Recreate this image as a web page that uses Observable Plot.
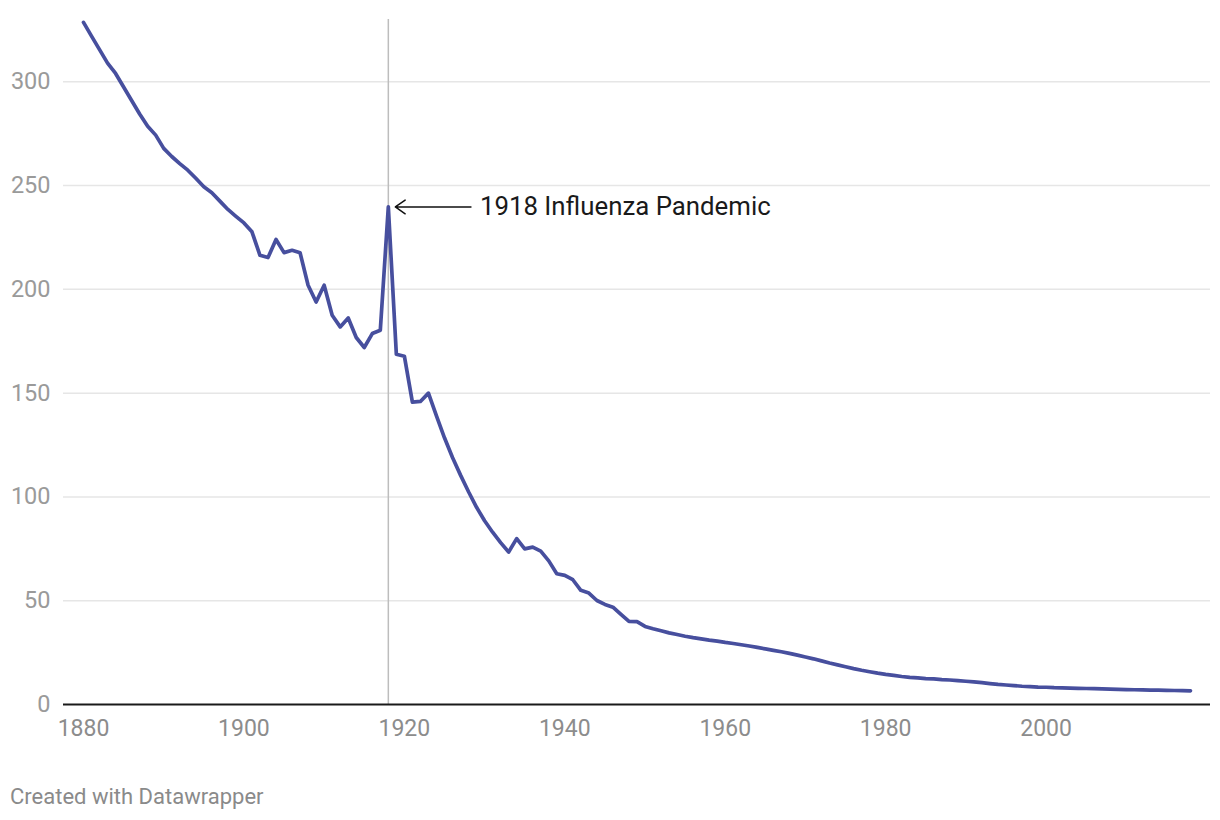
<!DOCTYPE html>
<html>
<head>
<meta charset="utf-8">
<script src="https://cdn.jsdelivr.net/npm/d3@7"></script>
<script src="https://cdn.jsdelivr.net/npm/@observablehq/plot@0.6"></script>
<style>
  html, body { margin: 0; padding: 0; background: #fff; }
  body { width: 1220px; height: 820px; position: relative; font-family: Roboto, "Noto Sans", sans-serif; }
  #chart { position: absolute; left: 0; top: 0; }
  #caption { position: absolute; left: 10px; top: 783px; font-size: 22px; line-height: 28px; color: #8a8a8a; font-family: Roboto, sans-serif; }
</style>
</head>
<body>
<div id="chart"></div>
<div id="caption">Created with Datawrapper</div>
<script>
const startYear = 1880;
const values = [
  // 1880-1900
  328.6, 322, 315.5, 309, 304, 297.5, 291, 284.5, 278.6, 274.3, 267.9, 264, 260.6, 257.4, 253.5, 249.4, 246.5, 242.5, 238.5, 235.2, 232,
  // 1901-1922
  227.7, 216.4, 215.3, 224, 217.7, 218.8, 217.6, 202, 193.9, 202, 187.5, 181.9, 186.2, 176.8, 172, 178.7, 180.3, 239.7, 168.7, 167.8, 145.7, 146,
  // 1923-1949
  150, 139, 128.5, 119, 110.5, 102.5, 95, 88.5, 83, 78, 73.4, 79.9, 75, 75.8, 73.9, 69.2, 63, 62.2, 60.1, 55, 53.7, 50.1, 48.2, 46.9, 43.4, 40, 39.9,
  // 1950-2018
  37.6, 36.5, 35.5, 34.5, 33.7, 32.9, 32.2, 31.6, 31.0, 30.5,
  29.9, 29.4, 28.8, 28.2, 27.5, 26.8, 26.1, 25.4, 24.6, 23.8,
  22.9, 22.0, 21.0, 20.0, 19.1, 18.2, 17.3, 16.5, 15.8, 15.1,
  14.5, 14.0, 13.5, 13.1, 12.8, 12.5, 12.3, 12.0, 11.8, 11.5,
  11.2, 10.9, 10.5, 10.1, 9.7, 9.4, 9.1, 8.8, 8.6, 8.4,
  8.3, 8.1, 8.0, 7.9, 7.8, 7.7, 7.6, 7.5, 7.4, 7.3,
  7.2, 7.1, 7.0, 6.95, 6.9, 6.8, 6.75, 6.7, 6.6
];
const years = values.map((_, i) => startYear + i);
const xTicks = [1880, 1900, 1920, 1940, 1960, 1980, 2000];
const yTicks = [0, 50, 100, 150, 200, 250, 300];
const gridTicks = [50, 100, 150, 200, 250, 300];
const annotationYear = [1918];
const annotationValue = [239.7];
const annotationLabel = ["1918 Influenza Pandemic"];

const data = years.map((year, i) => ({year, value: values[i]}));
const annotations = annotationYear.map((year, i) => ({year, value: annotationValue[i], label: annotationLabel[i]}));

const chart = Plot.plot({
  width: 1220,
  height: 770,
  marginLeft: 63,
  marginRight: 10,
  marginTop: 19,
  marginBottom: 66,
  style: {fontFamily: "Roboto, sans-serif", background: "#fff"},
  x: {domain: [1880, 2018], insetLeft: 20, insetRight: 20},
  y: {domain: [0, 330]},
  marks: [
    Plot.gridY(gridTicks, {stroke: "#e6e6e6", strokeOpacity: 1, strokeWidth: 1.5}),
    Plot.axisY(yTicks, {tickSize: 0, tickPadding: 13, fontSize: 23.5, fill: "#9a9a9a", label: null}),
    Plot.axisX(xTicks, {tickSize: 0, tickPadding: 15, fontSize: 23, fill: "#8c8c8c", label: null, tickFormat: d => String(d)}),
    Plot.ruleX(annotations, {x: "year", y1: 0, y2: 330, stroke: "#bdbdbd", strokeWidth: 1.5}),
    Plot.ruleY([0], {stroke: "#1a1a1a", strokeWidth: 2}),
    Plot.line(data, {x: "year", y: "value", stroke: "#474f9e", strokeWidth: 3.7, strokeLinejoin: "round", strokeLinecap: "round"}),
    Plot.arrow(annotations, {x1: d => d.year + 10.3, x2: "year", y1: "value", y2: "value", insetEnd: 7, stroke: "#111", strokeWidth: 1.5, headLength: 12, headAngle: 70}),
    Plot.text(annotations, {x: d => d.year + 10.3, y: "value", text: "label", dx: 9, textAnchor: "start", fontSize: 25.8, fill: "#1a1a1a"})
  ]
});
document.getElementById("chart").appendChild(chart);
</script>
</body>
</html>
